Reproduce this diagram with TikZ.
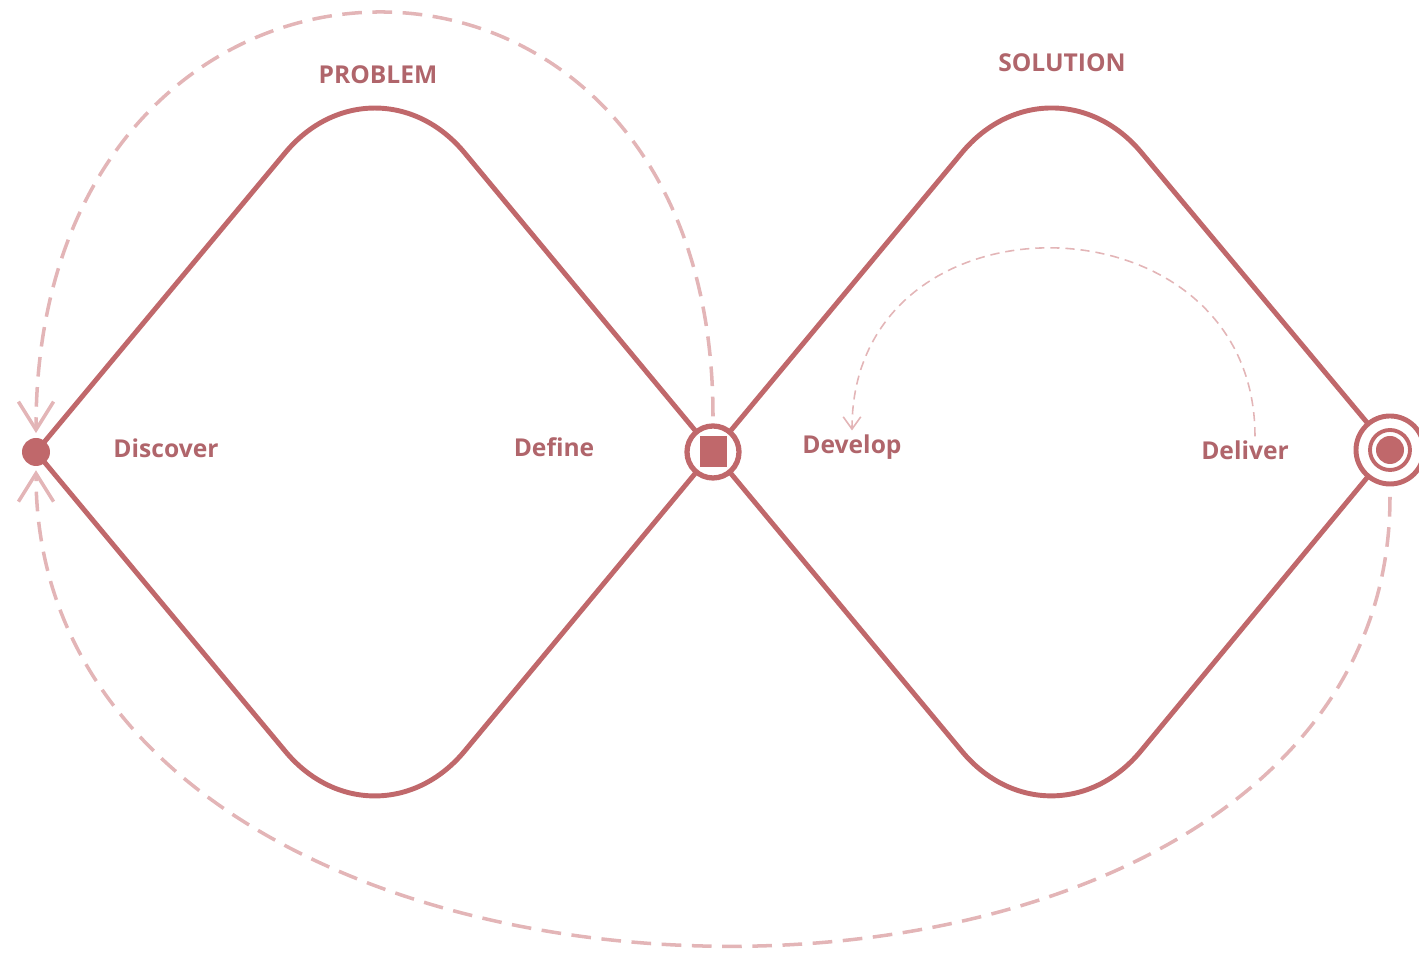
\documentclass[tikz,border=0pt]{standalone}
\usepackage{fontspec}
\setmainfont{Open Sans}
\usetikzlibrary{arrows.meta, backgrounds}
\definecolor{rosedark}{HTML}{C0686B}
\definecolor{rosetext}{HTML}{B0656B}
\definecolor{roselight}{HTML}{E3B5B7}
\tikzset{
  phaselabel/.style={font=\fontsize{7}{8}\selectfont\bfseries, text=rosetext, inner sep=1pt},
  diamondline/.style={draw=rosedark, line width=1.4pt, rounded corners=14mm},
  junction/.style={circle, draw=rosedark, fill=white, inner sep=0pt},
  dotnode/.style={circle, fill=rosedark, inner sep=0pt, minimum size=#1},
  loopback/.style={draw=roselight, line width=1pt, dash pattern=on 5.6pt off 3pt,
              -{Straight Barb[length=8pt, width=10pt]}},
  iterate/.style={draw=roselight, line width=0.45pt, dash pattern=on 2.6pt off 1.7pt,
              -{Straight Barb[length=3.5pt, width=5pt]}},
}

\begin{document}
\begin{tikzpicture}
  \useasboundingbox (0,0) rectangle (14.19,9.53);

  % Junctions
  \node[dotnode=0.28cm] (disc) at (0.36,5.01) {};
  \node[junction, line width=1.5pt, minimum size=0.52cm] (midring) at (7.13,5.01) {};
  \node[fill=rosedark, inner sep=0pt, minimum width=0.27cm, minimum height=0.31cm] (midsq) at (midring.center) {};
  \node[junction, line width=1.4pt, minimum size=0.68cm] (goal) at (13.90,5.03) {};
  \node[circle, draw=rosedark, line width=1.1pt, inner sep=0pt, minimum size=0.40cm] (goalin) at (goal.center) {};
  \node[dotnode=0.28cm] (goaldot) at (goal.center) {};

  % Diamond corners
  \coordinate (ptop) at (3.75,9.08);
  \coordinate (pbot) at (3.75,0.94);
  \coordinate (stop) at (10.515,9.08);
  \coordinate (sbot) at (10.515,0.94);

  % Diamonds
  \begin{scope}[on background layer]
    \draw[diamondline] (disc.center) -- (ptop) -- (midring.center);
    \draw[diamondline] (disc.center) -- (pbot) -- (midring.center);
    \draw[diamondline] (midring.center) -- (stop) -- (goal.center);
    \draw[diamondline] (midring.center) -- (sbot) -- (goal.center);
  \end{scope}

  % Labels
  \node[phaselabel] (problem)  at (3.78,8.78)  {PROBLEM};
  \node[phaselabel] (solution) at (10.62,8.90) {SOLUTION};
  \node[phaselabel] (discover) at (1.66,5.05)  {Discover};
  \node[phaselabel] (define)   at (5.54,5.06)  {Define};
  \node[phaselabel] (develop)  at (8.52,5.06)  {Develop};
  \node[phaselabel] (deliver)  at (12.45,5.03) {Deliver};

  % Loops
  \draw[loopback, shorten <=2pt, shorten >=1.2pt] (midring.north) .. controls +(0,5.55) and +(0,5.55) .. (disc.north);
  \draw[loopback, shorten <=3pt, shorten >=1pt] (goal.south) .. controls +(0,-6.23) and +(0,-6.23) .. (disc.south);
  \draw[iterate] ([xshift=0.1cm]deliver.north) .. controls +(0,2.47) and +(0,2.47) .. (develop.north);
\end{tikzpicture}
\end{document}
